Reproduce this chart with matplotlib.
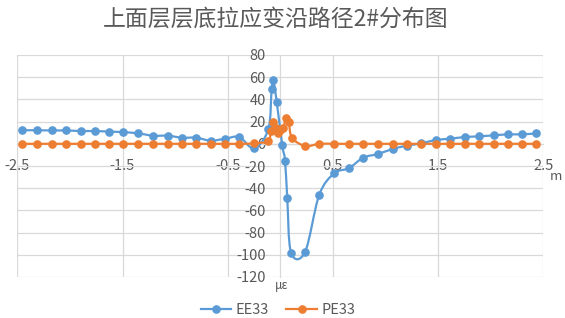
import numpy as np
import matplotlib
matplotlib.use("Agg")
import matplotlib.pyplot as plt
from matplotlib.path import Path
from matplotlib.patches import PathPatch
from matplotlib.lines import Line2D

plt.rcParams['font.family'] = ['Noto Sans CJK SC', 'DejaVu Sans']

title = "上面层层底拉应变沿路径2#分布图"
x_unit = "m"
y_unit = "με"
series_names = ["EE33", "PE33"]

ee_x = [-2.456, -2.313, -2.171, -2.035, -1.899, -1.766, -1.627, -1.491, -1.349, -1.209,
        -1.069, -0.934, -0.798, -0.661, -0.525, -0.389, -0.250, -0.114, -0.082, -0.066,
        -0.034, 0.019, 0.045, 0.066, 0.102, 0.235, 0.370, 0.513, 0.652, 0.788,
        0.928, 1.067, 1.203, 1.339, 1.476, 1.615, 1.754, 1.890, 2.027, 2.162,
        2.302, 2.435]
ee_y = [12.2, 12.2, 12.0, 12.0, 11.5, 11.5, 11.0, 10.5, 9.4, 7.3,
        7.3, 5.5, 5.5, 2.8, 4.6, 6.1, -4.0, 13.0, 49.6, 57.5,
        37.6, -1.4, -15.2, -48.5, -98.0, -97.5, -46.0, -26.6, -22.0, -12.5,
        -9.2, -4.7, -1.7, 0.4, 3.4, 4.6, 6.1, 6.7, 7.6, 8.5,
        8.5, 9.4]

pe_x = [-2.456, -2.313, -2.171, -2.035, -1.899, -1.766, -1.627, -1.491, -1.349, -1.209,
        -1.069, -0.934, -0.798, -0.661, -0.525, -0.389, -0.250, -0.114, -0.091, -0.066,
        -0.041, -0.019, -0.003, 0.028, 0.054, 0.080, 0.111, 0.237, 0.370, 0.513,
        0.652, 0.788, 0.928, 1.067, 1.203, 1.339, 1.476, 1.615, 1.754, 1.890,
        2.027, 2.162, 2.302, 2.435]
pe_y = [0.0, 0.0, 0.0, 0.0, 0.0, 0.0, 0.0, 0.0, 0.0, 0.0,
        0.0, 0.0, 0.0, 0.0, 0.0, 0.0, 0.4, 2.5, 11.8, 20.0,
        14.0, 9.4, 12.4, 14.0, 23.0, 19.4, 5.5, -2.0, 0.0, 0.0,
        0.0, 0.0, 0.0, 0.0, 0.0, 0.0, 0.0, 0.0, 0.0, 0.0,
        0.0, 0.0, 0.0, 0.0]

x_ticks = [-2.5, -1.5, -0.5, 0.5, 1.5, 2.5]
y_ticks = [80, 60, 40, 20, 0, -20, -40, -60, -80, -100, -120]

BLUE = "#5B9BD5"
ORANGE = "#ED7D31"
GRID = "#D9D9D9"
TEXT = "#595959"


def smooth_path(xs, ys):
    pts = np.column_stack([xs, ys])
    n = len(pts)
    verts = [pts[0]]
    codes = [Path.MOVETO]
    for i in range(n - 1):
        p0 = pts[i - 1] if i > 0 else pts[i]
        p1 = pts[i]
        p2 = pts[i + 1]
        p3 = pts[i + 2] if i + 2 < n else pts[i + 1]
        c1 = p1 + (p2 - p0) / 6.0
        c2 = p2 - (p3 - p1) / 6.0
        verts += [c1, c2, p2]
        codes += [Path.CURVE4] * 3
    return Path(verts, codes)


fig = plt.figure(figsize=(5.65, 3.18), dpi=100)
ax = fig.add_axes([17.3 / 565, 1 - 277 / 318, (543.3 - 17.3) / 565, (277 - 55) / 318])

ax.set_xlim(-2.5, 2.5)
ax.set_ylim(-120, 80)
ax.set_xticks(x_ticks)
ax.set_xticklabels([f"{t:g}" for t in x_ticks])
ax.set_yticks(y_ticks)
ax.set_yticklabels([f"{t:g}" for t in y_ticks])
ax.grid(True, color=GRID, linewidth=0.9)
ax.set_axisbelow(True)

for s in ["top", "right"]:
    ax.spines[s].set_visible(False)
ax.spines["left"].set_position(("data", 0))
ax.spines["left"].set_color(GRID)
ax.spines["left"].set_linewidth(0.9)
ax.spines["bottom"].set_position(("data", 0))
ax.spines["bottom"].set_color(GRID)
ax.spines["bottom"].set_linewidth(0.9)

ax.tick_params(axis="y", length=0, pad=10.5, labelsize=10.5, labelcolor=TEXT)
ax.tick_params(axis="x", length=0, pad=11.0, labelsize=10.5, labelcolor=TEXT)

for xs, ys, col in [(ee_x, ee_y, BLUE), (pe_x, pe_y, ORANGE)]:
    patch = PathPatch(smooth_path(xs, ys), facecolor="none", edgecolor=col,
                      linewidth=1.6, zorder=3, capstyle="round", joinstyle="round")
    ax.add_patch(patch)
    ax.plot(xs, ys, linestyle="none", marker="o", markersize=5.2, color=col, zorder=4)

fig.text(0.488, 1 - 19 / 318, title, ha="center", va="center", fontsize=16.5, color=TEXT)
fig.text(556 / 565, 1 - 176 / 318, x_unit, ha="center", va="center", fontsize=9.5, color=TEXT)
fig.text(281.5 / 565, 1 - 286 / 318, y_unit, ha="center", va="center", fontsize=8.5, color=TEXT)

handles = [Line2D([], [], color=BLUE, marker="o", markersize=5.2, linewidth=1.6),
           Line2D([], [], color=ORANGE, marker="o", markersize=5.2, linewidth=1.6)]
leg = fig.legend(handles, series_names, loc="center", bbox_to_anchor=(0.492, 1 - 310 / 318),
                 ncol=2, frameon=False, fontsize=10.5, handlelength=2.1, columnspacing=1.2,
                 handletextpad=0.3)
for t in leg.get_texts():
    t.set_color(TEXT)

fig.savefig("out.png", dpi=100)
